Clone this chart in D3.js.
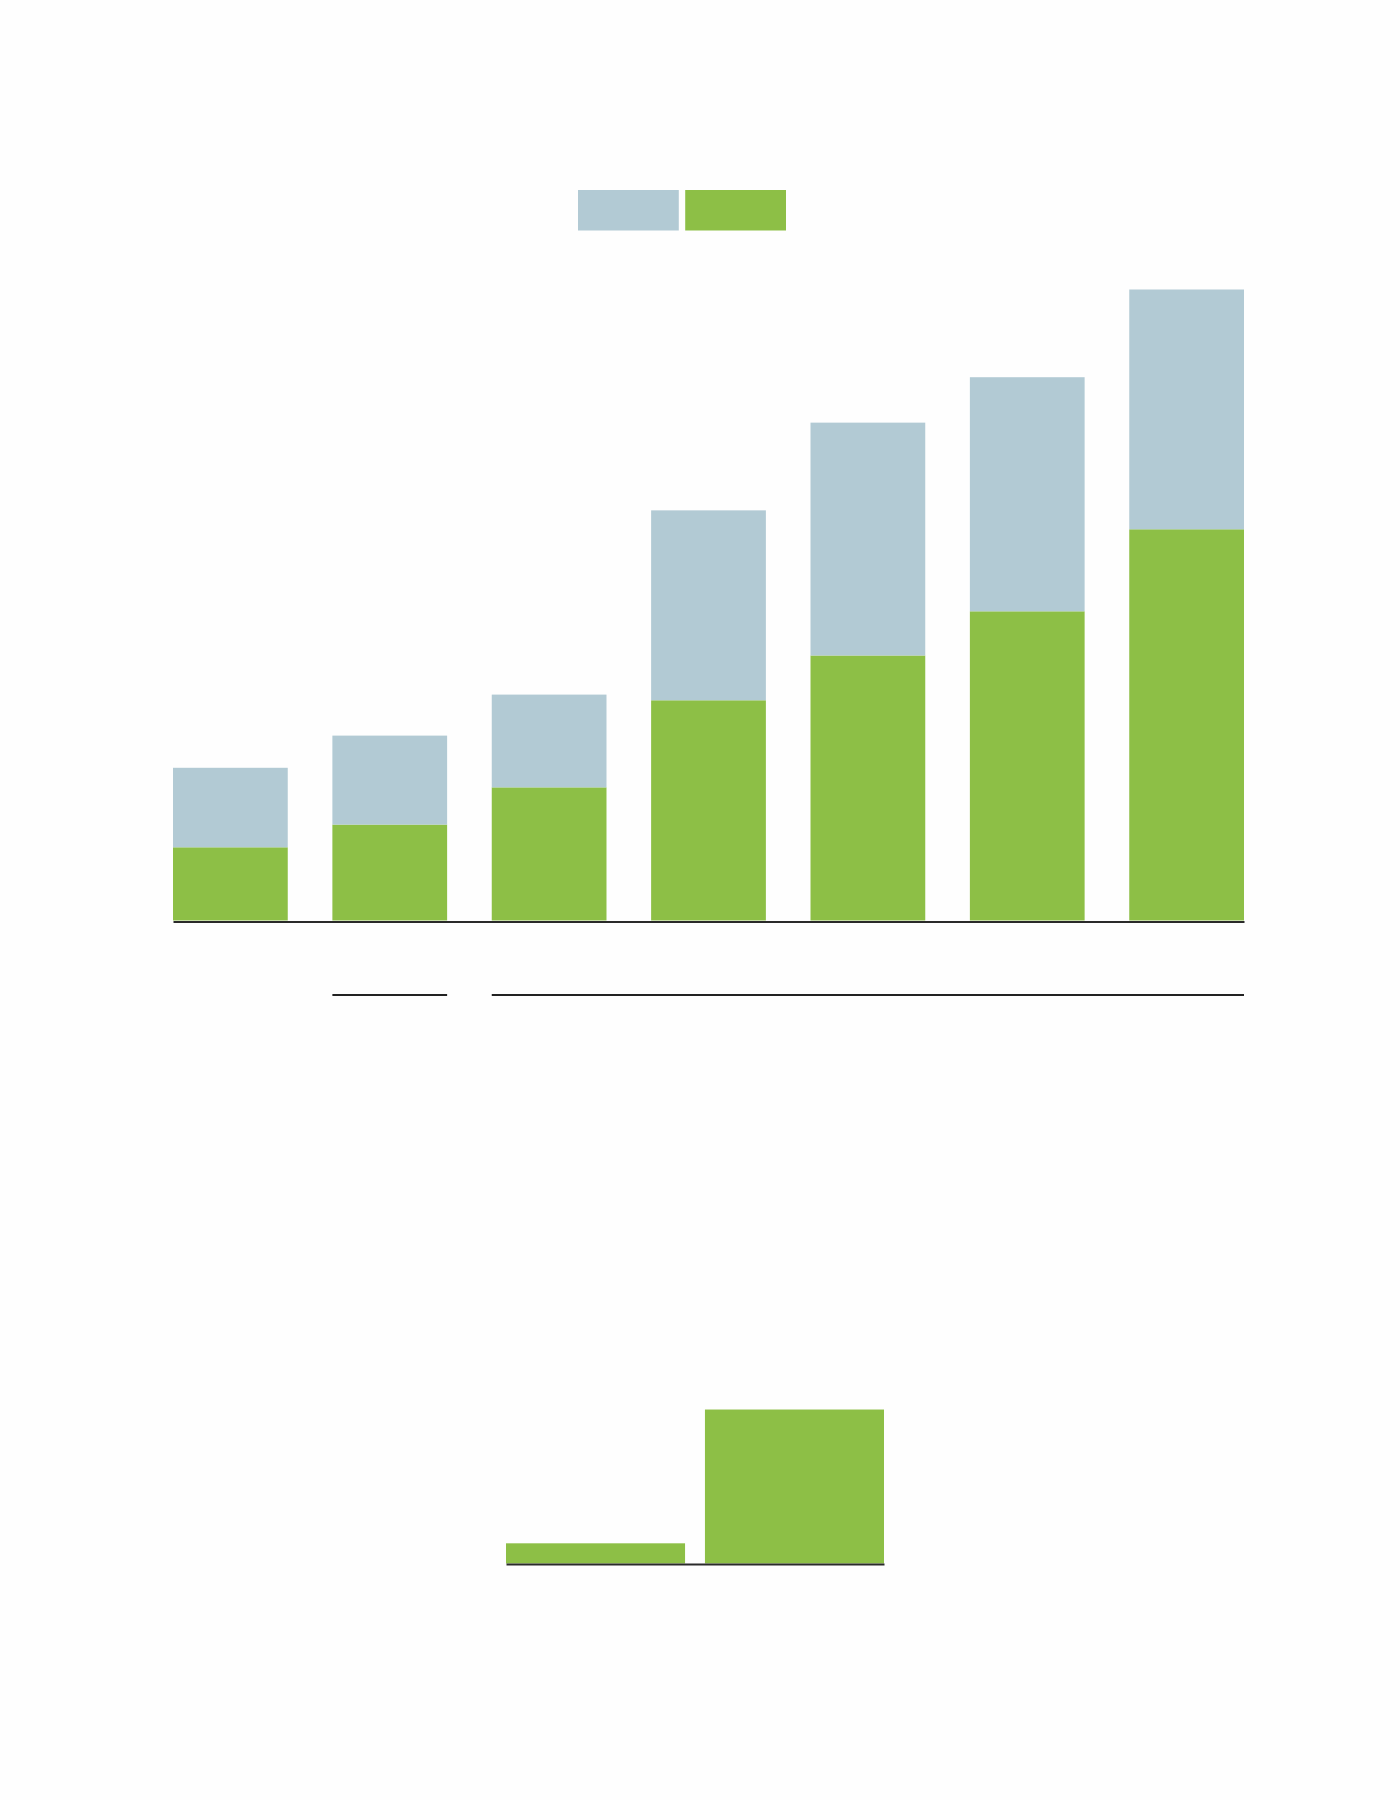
<!DOCTYPE html>
<html>
<head>
<meta charset="utf-8">
<script src="https://cdn.jsdelivr.net/npm/d3@7"></script>
<style>
  body { margin: 0; background: #fefefe; }
  svg { display: block; }
</style>
</head>
<body>
<script>
'use strict';

// top chart: seven stacked columns (green part + blue part on top)
const categories = ['c1', 'c2', 'c3', 'c4', 'c5', 'c6', 'c7'];
const greenValues = [1.16, 1.52, 2.11, 3.49, 4.20, 4.90, 6.20];
const blueValues = [1.26, 1.41, 1.47, 3.01, 3.69, 3.71, 3.80];

// brackets under the columns: first and last category of each group
const groupStarts = ['c2', 'c3'];
const groupEnds = ['c2', 'c7'];

// bottom chart: two green columns
const bottomCategories = ['b1', 'b2'];
const bottomValues = [0.32, 2.44];

const legendKeys = ['blue', 'green'];

(function() {

  let svg = "";
  const colors = { blue: '#b2cad4', green: '#8dbf46' };

  window.onload = function() {
    svg = d3.select('body')
      .append('svg')
      .attr('width', 1400)
      .attr('height', 1800);

    svg.append('rect')
      .attr('width', 1400)
      .attr('height', 1800)
      .attr('fill', '#fefefe');

    drawLegend();
    drawTopChart();
    drawBottomChart();
  }

  function drawLegend() {
    let xLegend = d3.scaleBand()
      .domain(legendKeys)
      .range([578, 786])
      .paddingInner(0.06);

    svg.append('g')
      .selectAll('rect')
      .data(legendKeys)
      .enter()
      .append('rect')
      .attr('x', (d) => xLegend(d))
      .attr('y', 190)
      .attr('width', xLegend.bandwidth())
      .attr('height', 40.5)
      .attr('fill', (d) => colors[d]);
  }

  function drawTopChart() {
    let xScale = d3.scaleBand()
      .domain(categories)
      .range([173, 1244])
      .paddingInner(0.28)
      .paddingOuter(0);

    // 10 units = 631px
    let yScale = d3.scaleLinear()
      .domain([0, 10])
      .range([920.5, 289.5]);

    let rows = categories.map((c, i) => ({
      cat: c, green: greenValues[i], blue: blueValues[i]
    }));
    let stacked = d3.stack().keys(['green', 'blue'])(rows);

    svg.append('g')
      .selectAll('g')
      .data(stacked)
      .enter()
      .append('g')
      .attr('fill', (s) => colors[s.key])
      .selectAll('rect')
      .data((s) => s)
      .enter()
      .append('rect')
      .attr('x', (d) => xScale(d.data.cat))
      .attr('y', (d) => yScale(d[1]))
      .attr('width', xScale.bandwidth())
      .attr('height', (d) => yScale(d[0]) - yScale(d[1]));

    // baseline
    svg.append('g')
      .attr('transform', 'translate(0,' + (yScale(0) + 1) + ')')
      .call(d3.axisBottom(xScale).tickSize(0).tickFormat(''))
      .call((g) => g.select('.domain')
        .attr('stroke', '#2a2a2a')
        .attr('stroke-width', 2.2));

    // group brackets
    svg.append('g')
      .selectAll('line')
      .data(groupStarts)
      .enter()
      .append('line')
      .attr('x1', (d) => xScale(d))
      .attr('x2', (d, i) => xScale(groupEnds[i]) + xScale.bandwidth())
      .attr('y1', yScale(0) + 74.5)
      .attr('y2', yScale(0) + 74.5)
      .attr('stroke', '#222')
      .attr('stroke-width', 2);
  }

  function drawBottomChart() {
    let xScale = d3.scaleBand()
      .domain(bottomCategories)
      .range([506, 884])
      .paddingInner(0.1)
      .paddingOuter(0);

    let yScale = d3.scaleLinear()
      .domain([0, 10])
      .range([1563.5, 932.5]);

    svg.append('g')
      .selectAll('rect')
      .data(bottomValues)
      .enter()
      .append('rect')
      .attr('x', (d, i) => xScale(bottomCategories[i]))
      .attr('y', (d) => yScale(d))
      .attr('width', xScale.bandwidth())
      .attr('height', (d) => yScale(0) - yScale(d))
      .attr('fill', colors.green);

    svg.append('g')
      .attr('transform', 'translate(0,' + (yScale(0) + 0.5) + ')')
      .call(d3.axisBottom(xScale).tickSize(0).tickFormat(''))
      .call((g) => g.select('.domain')
        .attr('stroke', '#2a2a2a')
        .attr('stroke-width', 2));
  }

})();
</script>
</body>
</html>
